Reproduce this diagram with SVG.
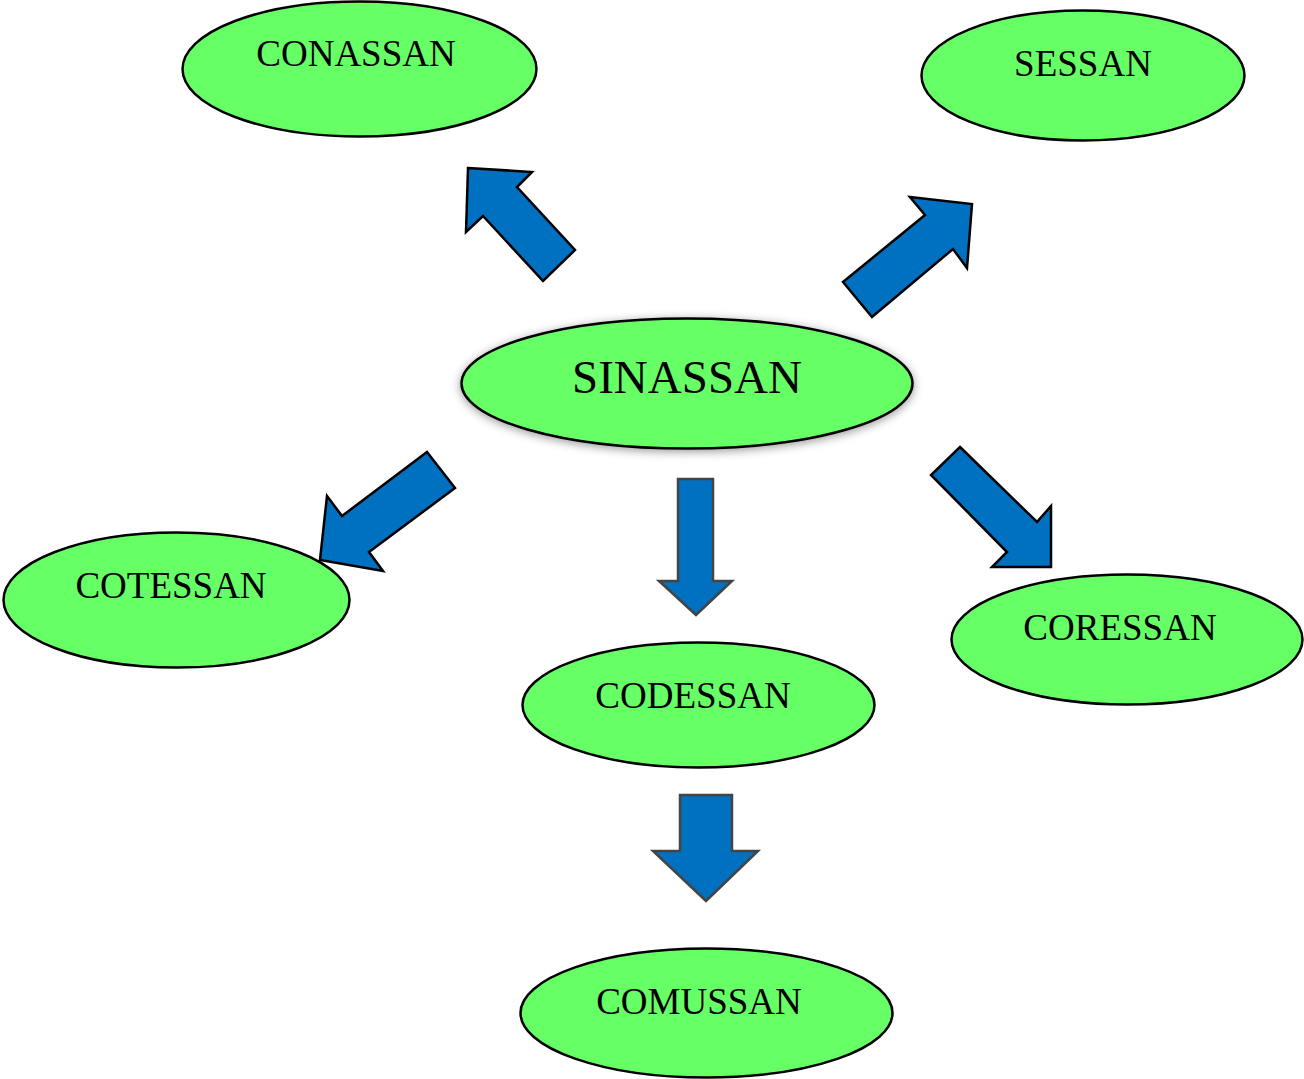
<svg xmlns="http://www.w3.org/2000/svg" width="1304" height="1079" viewBox="0 0 1304 1079">
<style>
.node{fill:#66FF66;stroke:#000;stroke-width:2.5}
.lbl{font-family:"Liberation Serif","Times New Roman",serif;font-size:37px;fill:#000;text-anchor:middle}
.arr{fill:#0070C0;stroke:#000;stroke-width:2.5;stroke-linejoin:miter}
.arrv{fill:#0070C0;stroke:#444;stroke-width:2.5;stroke-linejoin:miter}
</style>
<defs>
<filter id="sh" x="-10%" y="-25%" width="120%" height="150%">
<feDropShadow dx="0" dy="2" stdDeviation="5" flood-color="#000" flood-opacity="0.4"/>
</filter>
</defs>
<rect width="1304" height="1079" fill="#fff"/>
<g id="connectors">
<polygon class="arr" points="468,168 532,172 517,187 575,250 543,281 483,216 466,232"/>
<polygon class="arr" points="910,197 972,204 967,268 953,249 872,317 843,282 925,215"/>
<polygon class="arr" points="427,452 455,488 369,552 383,571 320,560 327,496 342,516"/>
<polygon class="arr" points="960,447 1037,522 1051,506 1051,567 992,567 1007,552 931,475"/>
<polygon class="arrv" points="678,479 713,479 713,581 732,581 696,615 659,581 678,581"/>
<polygon class="arrv" points="680,795 732,795 732,851 758,851 706,901 653,851 680,851"/>
</g>
<g id="conassan">
<ellipse class="node" cx="359.5" cy="69" rx="177" ry="67.5"/>
<text class="lbl" x="356" y="66">CONASSAN</text>
</g>
<g id="sessan">
<ellipse class="node" cx="1083" cy="75.5" rx="161.5" ry="65"/>
<text class="lbl" x="1083" y="76">SESSAN</text>
</g>
<g id="sinassan">
<ellipse class="node" cx="687" cy="383.5" rx="225.5" ry="65" filter="url(#sh)"/>
<text class="lbl" x="687" y="393" style="font-size:47px">SINASSAN</text>
</g>
<g id="cotessan">
<ellipse class="node" cx="176.5" cy="600" rx="173" ry="67.5"/>
<text class="lbl" x="171" y="598">COTESSAN</text>
</g>
<g id="codessan">
<ellipse class="node" cx="698.5" cy="705" rx="176" ry="62.5"/>
<text class="lbl" x="693" y="708">CODESSAN</text>
</g>
<g id="coressan">
<ellipse class="node" cx="1127" cy="639.5" rx="175.5" ry="65"/>
<text class="lbl" x="1120" y="640">CORESSAN</text>
</g>
<g id="comussan">
<ellipse class="node" cx="706.5" cy="1013" rx="186" ry="64.5"/>
<text class="lbl" x="699" y="1014">COMUSSAN</text>
</g>
</svg>
